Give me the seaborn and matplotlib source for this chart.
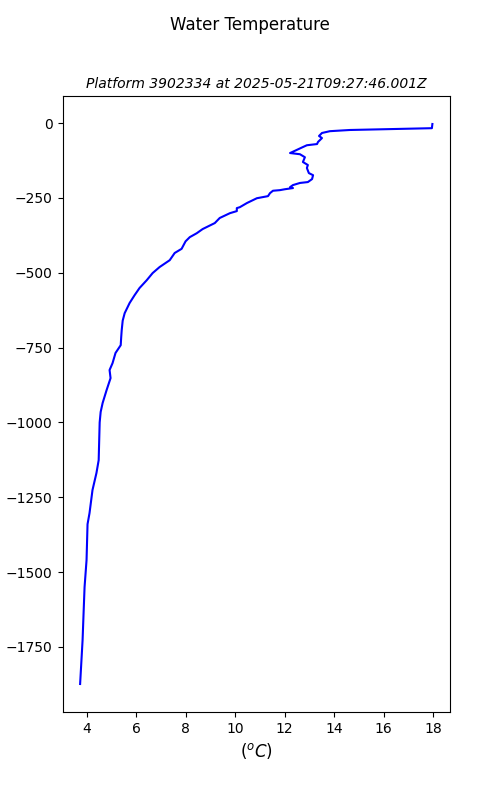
import matplotlib
matplotlib.use("Agg")
import matplotlib.pyplot as plt
import seaborn as sns
import pandas as pd

temperature = [17.97, 17.95, 14.64, 13.83, 13.51, 13.39, 13.51, 13.35, 13.31, 12.90,
               12.74, 12.30, 12.22, 12.62, 12.82, 12.74, 12.94, 12.90, 12.98, 13.15,
               13.11, 12.94, 12.62, 12.34, 12.22, 12.34, 12.01, 11.81, 11.53, 11.41,
               11.33, 10.88, 10.48, 10.19, 10.07, 10.07, 9.79, 9.38, 9.18, 8.69,
               8.45, 8.17, 8.00, 7.84, 7.56, 7.36, 6.95, 6.67, 6.43, 6.14,
               5.94, 5.74, 5.54, 5.46, 5.42, 5.40, 5.38, 5.17, 5.05, 4.93,
               4.97, 4.81, 4.65, 4.57, 4.53, 4.49, 4.40, 4.24, 4.12, 4.04,
               4.00, 3.92, 3.88, 3.84, 3.74]
depth = [3, 17, 23, 27, 33, 43, 50, 63, 70, 74,
         80, 97, 100, 104, 114, 130, 140, 150, 167, 174,
         187, 197, 200, 207, 214, 217, 221, 224, 226, 234,
         244, 251, 267, 281, 284, 294, 301, 317, 334, 354,
         368, 381, 395, 420, 434, 458, 481, 501, 525, 551,
         575, 601, 635, 660, 692, 715, 742, 768, 802, 825,
         852, 892, 935, 965, 1000, 1126, 1169, 1226, 1303, 1340,
         1460, 1550, 1637, 1727, 1874]

df = pd.DataFrame({"temp": temperature, "depth": [-d for d in depth]})

fig, ax = plt.subplots(figsize=(5, 8), dpi=100)
sns.lineplot(data=df, x="temp", y="depth", sort=False, estimator=None,
             color="blue", linewidth=1.5, ax=ax)
fig.suptitle("Water Temperature", fontsize=12)
ax.set_title("Platform 3902334 at 2025-05-21T09:27:46.001Z", fontsize=10, style="italic")
ax.set_xlabel("$(^oC)$", fontsize=12)
ax.set_ylabel("depth (m)", fontsize=10)
ax.set_xticks([4, 6, 8, 10, 12, 14, 16, 18])
fig.savefig("out.png", dpi=100)
